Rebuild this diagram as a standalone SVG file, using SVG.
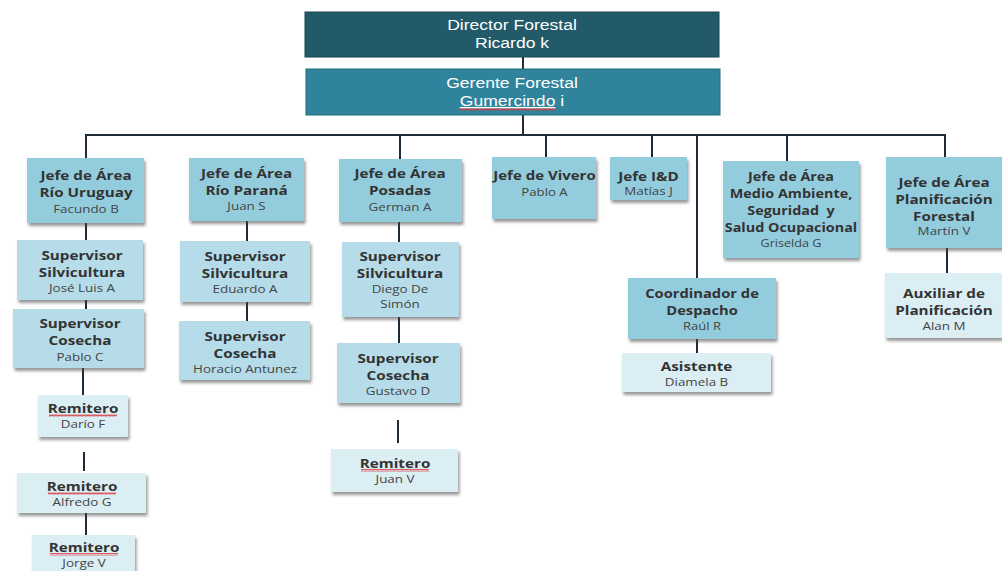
<svg xmlns="http://www.w3.org/2000/svg" width="1002" height="571" viewBox="0 0 1002 571">
<style>
.t{font-family:"Open Sans","Liberation Sans",sans-serif;font-weight:700;font-size:12.5px;fill:#333;text-anchor:middle}
.n{font-family:"Open Sans","Liberation Sans",sans-serif;font-weight:400;font-size:11px;fill:#444;text-anchor:middle}
.top{font-family:"Liberation Sans",Arial,sans-serif;font-size:15px;fill:#fff;text-anchor:middle}
.c1{fill:#93cddd}
.c2{fill:#b5dce8}
.c3{fill:#dbeef4}
.conn line{stroke:#1e2b38;stroke-width:2}
.sq{fill:url(#sqp)}
</style>
<defs>
<filter id="sh" x="-10%" y="-10%" width="125%" height="140%">
<feDropShadow dx="1.5" dy="3" stdDeviation="1.5" flood-color="#444" flood-opacity="0.55"/>
</filter>
<pattern id="sqp" width="4" height="3" patternUnits="userSpaceOnUse">
<path d="M0,2.5 L1,0.5 L2,2.5 L3,0.5 L4,2.5" fill="none" stroke="#d9363e" stroke-width="0.8"/>
</pattern>
</defs>
<rect width="1002" height="571" fill="#fff"/>
<g id="connectors" class="conn">
<line x1="523" y1="57" x2="523" y2="69"/>
<line x1="523" y1="115" x2="523" y2="135"/>
<line x1="85" y1="135" x2="946" y2="135"/>
<line x1="86" y1="135" x2="86" y2="158"/>
<line x1="400" y1="135" x2="400" y2="159"/>
<line x1="546" y1="135" x2="546" y2="157"/>
<line x1="652" y1="135" x2="652" y2="157"/>
<line x1="697" y1="135" x2="697" y2="278"/>
<line x1="787" y1="135" x2="787" y2="161"/>
<line x1="945" y1="135" x2="945" y2="157"/>
<line x1="86" y1="223" x2="86" y2="240"/>
<line x1="86" y1="300" x2="86" y2="309"/>
<line x1="83" y1="368" x2="83" y2="395"/>
<line x1="84" y1="452" x2="84" y2="471"/>
<line x1="86" y1="513" x2="86" y2="535"/>
<line x1="247" y1="221" x2="247" y2="241"/>
<line x1="247" y1="302" x2="247" y2="321"/>
<line x1="399" y1="222" x2="399" y2="242"/>
<line x1="399" y1="317" x2="399" y2="343"/>
<line x1="398" y1="420" x2="398" y2="443"/>
<line x1="697" y1="339" x2="697" y2="353"/>
<line x1="947" y1="248" x2="947" y2="273"/>
</g>

<g id="director">
<rect x="305" y="12" width="414" height="45" fill="#225a6a" stroke="#1a4450" stroke-width="1"/>
<g transform="translate(512 0) scale(1.17 1)">
<text class="top" x="0" y="30">Director Forestal</text>
<text class="top" x="0" y="48">Ricardo k</text>
</g>
</g>

<g id="gerente">
<rect x="306" y="69" width="414" height="46" fill="#2f849c" stroke="#246a7e" stroke-width="1"/>
<g transform="translate(512 0) scale(1.17 1)">
<text class="top" x="0" y="88">Gerente Forestal</text>
<text class="top" x="0" y="106"><tspan text-decoration="underline">Gumercindo</tspan> i</text>
</g>
<rect class="sq" x="459" y="108" width="96" height="3"/>
</g>

<g id="jefe-rio-uruguay">
<rect class="c1" x="27" y="158" width="117" height="65" filter="url(#sh)"/>
<g transform="translate(86 0) scale(1.22 1)">
<text class="t" x="0" y="180">Jefe de Área</text>
<text class="t" x="0" y="197">Río Uruguay</text>
<text class="n" x="0" y="213">Facundo B</text>
</g>
</g>

<g id="sup-silv-jose">
<rect class="c2" x="17" y="240" width="126" height="60" filter="url(#sh)"/>
<g transform="translate(82 0) scale(1.22 1)">
<text class="t" x="0" y="260">Supervisor</text>
<text class="t" x="0" y="277">Silvicultura</text>
<text class="n" x="0" y="292">José Luis A</text>
</g>
</g>

<g id="sup-cos-pablo">
<rect class="c2" x="13" y="309" width="131" height="59" filter="url(#sh)"/>
<g transform="translate(80 0) scale(1.22 1)">
<text class="t" x="0" y="328">Supervisor</text>
<text class="t" x="0" y="345">Cosecha</text>
<text class="n" x="0" y="361">Pablo C</text>
</g>
</g>

<g id="remitero-dario">
<rect class="c3" x="38" y="395" width="90" height="42" filter="url(#sh)"/>
<g transform="translate(83 0) scale(1.22 1)">
<text class="t" x="0" y="413">Remitero</text>
<text class="n" x="0" y="428">Darío F</text>
</g>
<rect class="sq" x="49" y="414" width="68" height="3"/>
</g>

<g id="remitero-alfredo">
<rect class="c3" x="17" y="473" width="129" height="40" filter="url(#sh)"/>
<g transform="translate(82 0) scale(1.22 1)">
<text class="t" x="0" y="491">Remitero</text>
<text class="n" x="0" y="506">Alfredo G</text>
</g>
<rect class="sq" x="48" y="492" width="68" height="3"/>
</g>

<g id="remitero-jorge">
<rect class="c3" x="32" y="535" width="103" height="42" filter="url(#sh)"/>
<g transform="translate(84 0) scale(1.22 1)">
<text class="t" x="0" y="552">Remitero</text>
<text class="n" x="0" y="567">Jorge V</text>
</g>
<rect class="sq" x="50" y="553" width="68" height="3"/>
</g>

<g id="jefe-rio-parana">
<rect class="c1" x="189" y="158" width="115" height="63" filter="url(#sh)"/>
<g transform="translate(246.5 0) scale(1.22 1)">
<text class="t" x="0" y="178">Jefe de Área</text>
<text class="t" x="0" y="195">Río Paraná</text>
<text class="n" x="0" y="210">Juan S</text>
</g>
</g>

<g id="sup-silv-eduardo">
<rect class="c2" x="180" y="241" width="130" height="61" filter="url(#sh)"/>
<g transform="translate(245 0) scale(1.22 1)">
<text class="t" x="0" y="261">Supervisor</text>
<text class="t" x="0" y="278">Silvicultura</text>
<text class="n" x="0" y="293">Eduardo A</text>
</g>
</g>

<g id="sup-cos-horacio">
<rect class="c2" x="179" y="321" width="131" height="59" filter="url(#sh)"/>
<g transform="translate(245 0) scale(1.22 1)">
<text class="t" x="0" y="341">Supervisor</text>
<text class="t" x="0" y="358">Cosecha</text>
<text class="n" x="0" y="373">Horacio Antunez</text>
</g>
</g>

<g id="jefe-posadas">
<rect class="c1" x="339" y="159" width="123" height="63" filter="url(#sh)"/>
<g transform="translate(400 0) scale(1.22 1)">
<text class="t" x="0" y="178">Jefe de Área</text>
<text class="t" x="0" y="195">Posadas</text>
<text class="n" x="0" y="211">German A</text>
</g>
</g>

<g id="sup-silv-diego">
<rect class="c2" x="342" y="242" width="117" height="75" filter="url(#sh)"/>
<g transform="translate(400 0) scale(1.22 1)">
<text class="t" x="0" y="261">Supervisor</text>
<text class="t" x="0" y="278">Silvicultura</text>
<text class="n" x="0" y="293">Diego De</text>
<text class="n" x="0" y="308">Simón</text>
</g>
</g>

<g id="sup-cos-gustavo">
<rect class="c2" x="337" y="343" width="123" height="60" filter="url(#sh)"/>
<g transform="translate(398 0) scale(1.22 1)">
<text class="t" x="0" y="363">Supervisor</text>
<text class="t" x="0" y="380">Cosecha</text>
<text class="n" x="0" y="395">Gustavo D</text>
</g>
</g>

<g id="remitero-juan">
<rect class="c3" x="331" y="449" width="127" height="43" filter="url(#sh)"/>
<g transform="translate(395 0) scale(1.22 1)">
<text class="t" x="0" y="468">Remitero</text>
<text class="n" x="0" y="483">Juan V</text>
</g>
<rect class="sq" x="361" y="469" width="68" height="3"/>
</g>

<g id="jefe-vivero">
<rect class="c1" x="492" y="157" width="104" height="62" filter="url(#sh)"/>
<g transform="translate(544.5 0) scale(1.2 1)">
<text class="t" x="0" y="180">Jefe de Vivero</text>
<text class="n" x="0" y="196">Pablo A</text>
</g>
</g>

<g id="jefe-id">
<rect class="c1" x="610" y="157" width="77" height="43" filter="url(#sh)"/>
<g transform="translate(648.5 0) scale(1.22 1)">
<text class="t" x="0" y="181">Jefe I&amp;D</text>
<text class="n" x="0" y="195">Matías J</text>
</g>
</g>

<g id="coordinador-despacho">
<rect class="c1" x="628" y="278" width="148" height="61" filter="url(#sh)"/>
<g transform="translate(702 0) scale(1.18 1)">
<text class="t" x="0" y="298">Coordinador de</text>
<text class="t" x="0" y="315">Despacho</text>
<text class="n" x="0" y="330">Raúl R</text>
</g>
</g>

<g id="asistente">
<rect class="c3" x="622" y="353" width="149" height="39" filter="url(#sh)"/>
<g transform="translate(696.5 0) scale(1.22 1)">
<text class="t" x="0" y="371">Asistente</text>
<text class="n" x="0" y="386">Diamela B</text>
</g>
</g>

<g id="jefe-medio-ambiente">
<rect class="c1" x="723" y="161" width="136" height="97" filter="url(#sh)"/>
<g transform="translate(791 0) scale(1.15 1)">
<text class="t" x="0" y="181">Jefe de Área</text>
<text class="t" x="0" y="198">Medio Ambiente,</text>
<text class="t" x="0" y="215">Seguridad&#160; y</text>
<text class="t" x="0" y="232">Salud Ocupacional</text>
<text class="n" x="0" y="247">Griselda G</text>
</g>
</g>

<g id="jefe-planificacion">
<rect class="c1" x="886" y="157" width="120" height="91" filter="url(#sh)"/>
<g transform="translate(944 0) scale(1.22 1)">
<text class="t" x="0" y="187">Jefe de Área</text>
<text class="t" x="0" y="204">Planificación</text>
<text class="t" x="0" y="221">Forestal</text>
<text class="n" x="0" y="235">Martín V</text>
</g>
</g>

<g id="auxiliar-planificacion">
<rect class="c3" x="885" y="273" width="121" height="65" filter="url(#sh)"/>
<g transform="translate(944 0) scale(1.22 1)">
<text class="t" x="0" y="298">Auxiliar de</text>
<text class="t" x="0" y="315">Planificación</text>
<text class="n" x="0" y="330">Alan M</text>
</g>
</g>
</svg>
